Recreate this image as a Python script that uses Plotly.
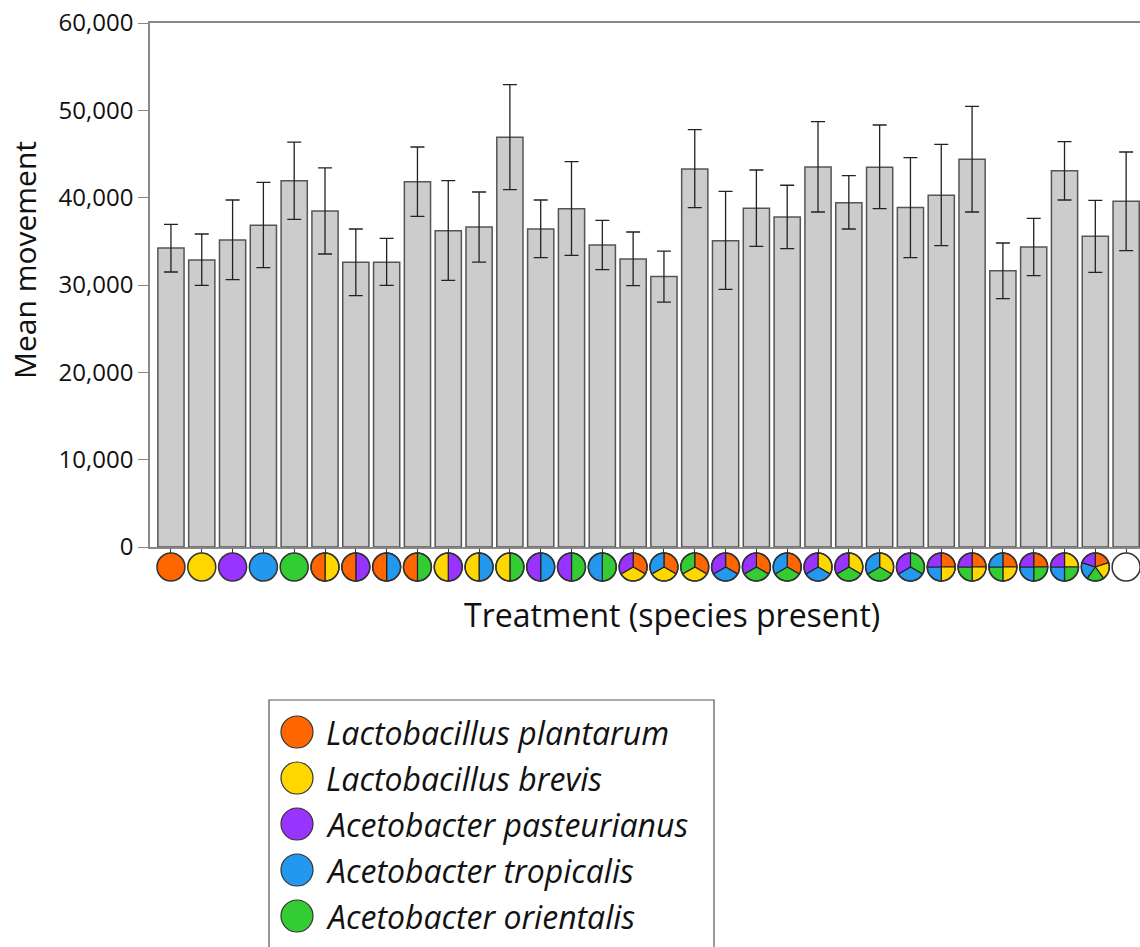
import math
import plotly.graph_objects as go

# ---------------- data ----------------
species = ["Lactobacillus plantarum", "Lactobacillus brevis", "Acetobacter pasteurianus",
           "Acetobacter tropicalis", "Acetobacter orientalis"]
species_codes = ["Lp", "Lb", "Ap", "At", "Ao"]
species_colors = ["#FF6600", "#FFD700", "#9933FF", "#2299EE", "#33CC33"]

# pie slices for each treatment, listed clockwise starting at 12 o'clock
treatments = [
    ["Lp"], ["Lb"], ["Ap"], ["At"], ["Ao"],
    ["Lb", "Lp"], ["Ap", "Lp"], ["At", "Lp"], ["Ao", "Lp"], ["Ap", "Lb"],
    ["At", "Lb"], ["Ao", "Lb"], ["At", "Ap"], ["Ao", "Ap"], ["Ao", "At"],
    ["Lp", "Lb", "Ap"], ["Lp", "Lb", "At"], ["Lp", "Lb", "Ao"], ["Lp", "At", "Ap"],
    ["Lp", "Ao", "Ap"], ["Lp", "Ao", "At"], ["Lb", "At", "Ap"], ["Lb", "Ao", "Ap"],
    ["Lb", "Ao", "At"], ["Ao", "At", "Ap"],
    ["Lp", "Lb", "At", "Ap"], ["Lp", "Lb", "Ao", "Ap"], ["Lp", "Lb", "Ao", "At"],
    ["Lp", "Ao", "At", "Ap"], ["Lb", "Ao", "At", "Ap"],
    ["Lp", "Lb", "Ao", "At", "Ap"],
    [],
]
categories = ["+".join(sorted(t)) if t else "none" for t in treatments]

mean_movement = [34240, 32860, 35150, 36830, 41950, 38470, 32600, 32600, 41830, 36220,
                 36640, 46910, 36410, 38740, 34580, 32980, 30960, 43280, 35080, 38780,
                 37790, 43510, 39430, 43470, 38860, 40270, 44390, 31640, 34350, 43090,
                 35580, 39580]
err_upper = [36950, 35840, 39730, 41760, 46370, 43400, 36410, 35340, 45800, 41950,
             40650, 52940, 39730, 44120, 37410, 36070, 33890, 47790, 40730, 43170,
             41420, 48700, 42520, 48320, 44580, 46110, 50460, 34810, 37640, 46410,
             39700, 45230]
err_lower = [31490, 29960, 30610, 31980, 37520, 33550, 28780, 29960, 37860, 30530,
             32630, 40930, 33130, 33400, 31750, 29920, 28050, 38860, 29500, 34430,
             34160, 38360, 36410, 38740, 33130, 34500, 38360, 28430, 31070, 39730,
             31450, 33930]

y_ticks = [0, 10000, 20000, 30000, 40000, 50000, 60000]
y_tick_labels = ["0", "10,000", "20,000", "30,000", "40,000", "50,000", "60,000"]

# ---------------- layout constants ----------------
W, H = 1140, 947
ML, MR, MT, MB = 150, 0, 23, 400
plot_h = H - MT - MB
plot_w = W - ML - MR
FONT = "Open Sans"


def py2paper(py):
    return (H - MB - py) / plot_h


def px2paper(px):
    return (px - ML) / plot_w


color_of = dict(zip(species_codes, species_colors))
idx = list(range(len(categories)))

fig = go.Figure()
fig.add_trace(go.Bar(
    x=idx, y=mean_movement, customdata=categories,
    hovertemplate="%{customdata}: %{y:,}<extra></extra>",
    marker=dict(color="#cccccc", line=dict(color="#555555", width=1.5)),
    error_y=dict(type="data", symmetric=False,
                 array=[u - m for u, m in zip(err_upper, mean_movement)],
                 arrayminus=[m - l for l, m in zip(err_lower, mean_movement)],
                 color="#222222", thickness=1.3, width=7),
    showlegend=False,
))

shapes = []
R = 14
OUT = "#333333"


def wedge_path(a0, a1, r, n=48):
    # angles in degrees, clockwise from 12 o'clock; pixel coords with y up
    steps = max(2, int(n * (a1 - a0) / 360))
    pts = ["M 0,0"]
    for k in range(steps + 1):
        a = math.radians(a0 + (a1 - a0) * k / steps)
        pts.append(f"L {r*math.sin(a):.2f},{r*math.cos(a):.2f}")
    pts.append("Z")
    return " ".join(pts)


pie_y = py2paper(567)
for i, t in enumerate(treatments):
    n = len(t)
    if n <= 1:
        fill = color_of[t[0]] if n == 1 else "white"
        shapes.append(dict(type="circle", xref="x", yref="paper", xsizemode="pixel",
                           ysizemode="pixel", xanchor=i, yanchor=pie_y,
                           x0=-R, x1=R, y0=-R, y1=R, fillcolor=fill,
                           line=dict(color=OUT, width=1.5), layer="above"))
        continue
    step = 360 / n
    for k, code in enumerate(t):
        shapes.append(dict(type="path", xref="x", yref="paper", xsizemode="pixel",
                           ysizemode="pixel", xanchor=i, yanchor=pie_y,
                           path=wedge_path(k * step, (k + 1) * step, R),
                           fillcolor=color_of[code], line=dict(color="#222222", width=1.2),
                           layer="above"))
    shapes.append(dict(type="circle", xref="x", yref="paper", xsizemode="pixel",
                       ysizemode="pixel", xanchor=i, yanchor=pie_y,
                       x0=-R, x1=R, y0=-R, y1=R, fillcolor="rgba(0,0,0,0)",
                       line=dict(color=OUT, width=1.5), layer="above"))

# legend box
shapes.append(dict(type="rect", xref="paper", yref="paper",
                   x0=px2paper(269), x1=px2paper(714), y0=py2paper(700), y1=py2paper(990),
                   line=dict(color="#555555", width=1.2), fillcolor="rgba(0,0,0,0)"))

annotations = []
legend_rows = [732, 778, 824, 870, 916]
for name, col, ry in zip(species, species_colors, legend_rows):
    shapes.append(dict(type="circle", xref="paper", yref="paper", xsizemode="pixel",
                       ysizemode="pixel", xanchor=px2paper(297), yanchor=py2paper(ry),
                       x0=-16, x1=16, y0=-16, y1=16, fillcolor=col,
                       line=dict(color=OUT, width=1.2)))
    annotations.append(dict(xref="paper", yref="paper", x=px2paper(324), y=py2paper(ry),
                            xanchor="left", yanchor="middle", showarrow=False,
                            text=f"<i>{name}</i>",
                            font=dict(family=FONT, size=32, color="#111111")))

annotations.append(dict(xref="paper", yref="paper", x=px2paper(24), y=py2paper(260),
                        xanchor="center", yanchor="middle", showarrow=False, textangle=-90,
                        text="Mean movement", font=dict(family=FONT, size=30, color="#111111")))
annotations.append(dict(xref="paper", yref="paper", x=px2paper(672), y=py2paper(614),
                        xanchor="center", yanchor="middle", showarrow=False,
                        text="Treatment (species present)",
                        font=dict(family=FONT, size=32, color="#111111")))

fig.update_layout(
    width=W, height=H,
    margin=dict(l=ML, r=MR, t=MT, b=MB, pad=0),
    paper_bgcolor="white", plot_bgcolor="white",
    bargap=0.15,
    shapes=shapes, annotations=annotations,
    font=dict(family=FONT, color="#111111"),
    xaxis=dict(range=[-0.68, 31.45], tickmode="array", tickvals=idx, showticklabels=False,
               ticks="outside", ticklen=6, tickcolor="#333333", tickwidth=1,
               showline=True, linecolor="#888888", linewidth=1.5, mirror=True,
               showgrid=False, zeroline=False, fixedrange=True),
    yaxis=dict(range=[0, 60000], tickmode="array", tickvals=y_ticks, ticktext=y_tick_labels,
               ticks="outside", ticklen=10, tickcolor="#888888", tickwidth=1.2,
               showline=True, linecolor="#888888", linewidth=1.5,
               showgrid=False, zeroline=False,
               tickfont=dict(family=FONT, size=24, color="#111111"), fixedrange=True),
)

fig.write_html("out.html")
